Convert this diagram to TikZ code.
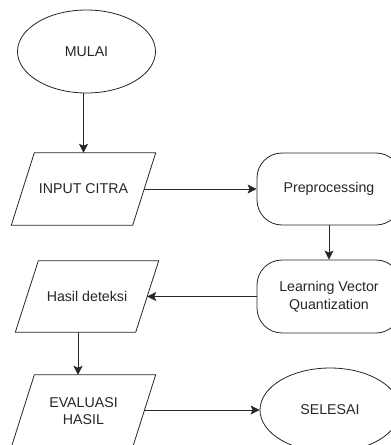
\documentclass[tikz,border=0pt]{standalone}
\usepackage{fontspec}
\setmainfont{Liberation Sans}
\usetikzlibrary{shapes.geometric,arrows.meta}
\begin{document}
\begin{tikzpicture}[x=1pt,y=-1pt,
  every node/.style={font=\fontsize{14.2}{17.5}\selectfont, text=black!85},
  line/.style={draw=black!85, line width=0.8pt},
  arr/.style={line, -{Stealth[length=9pt,width=9pt,inset=2pt]}},
  term/.style={line, ellipse, minimum width=138pt, minimum height=83pt, inner sep=0pt},
  proc/.style={line, rectangle, rounded corners=25pt, minimum width=144pt, minimum height=72pt, align=center, inner sep=0pt},
  io/.style={rectangle, minimum width=121pt, minimum height=72pt, align=center, inner sep=0pt}
]
\useasboundingbox (0,0) rectangle (391,445);
\clip (0,0) rectangle (391,445);
\node[term] (mulai) at (86.5,51.5) {MULAI};
\node[io] (inp) at (83.5,189) {INPUT CITRA};
\node[proc] (pre) at (329,189) {Preprocessing};
\node[proc, minimum height=73pt] (lvq) at (329,296.5) {Learning Vector\\Quantization};
\node[io, minimum width=120pt, minimum height=71pt] (has) at (87,296.5) {Hasil deteksi};
\node[io] (eva) at (83.5,411) {EVALUASI\\HASIL};
\node[term, minimum width=140pt, minimum height=84pt] (sel) at (330,410) {SELESAI};
\foreach \n in {inp,has,eva}
  \draw[line] ([xshift=11.5pt]\n.north west) -- ([xshift=11.5pt]\n.north east)
    -- ([xshift=-11.5pt]\n.south east) -- ([xshift=-11.5pt]\n.south west) -- cycle;
\coordinate (c1) at (78,0);
\draw[arr] (mulai.south -| inp.north) -- (inp.north);
\draw[arr] (inp.east) -- (inp.east -| pre.west);
\draw[arr] (pre.south) -- (lvq.north);
\draw[arr] (lvq.west) -- (lvq.west -| has.east);
\draw[arr] (has.south -| c1) -- (eva.north -| c1);
\draw[arr] (eva.east |- sel.west) -- (sel.west);
\end{tikzpicture}
\end{document}
